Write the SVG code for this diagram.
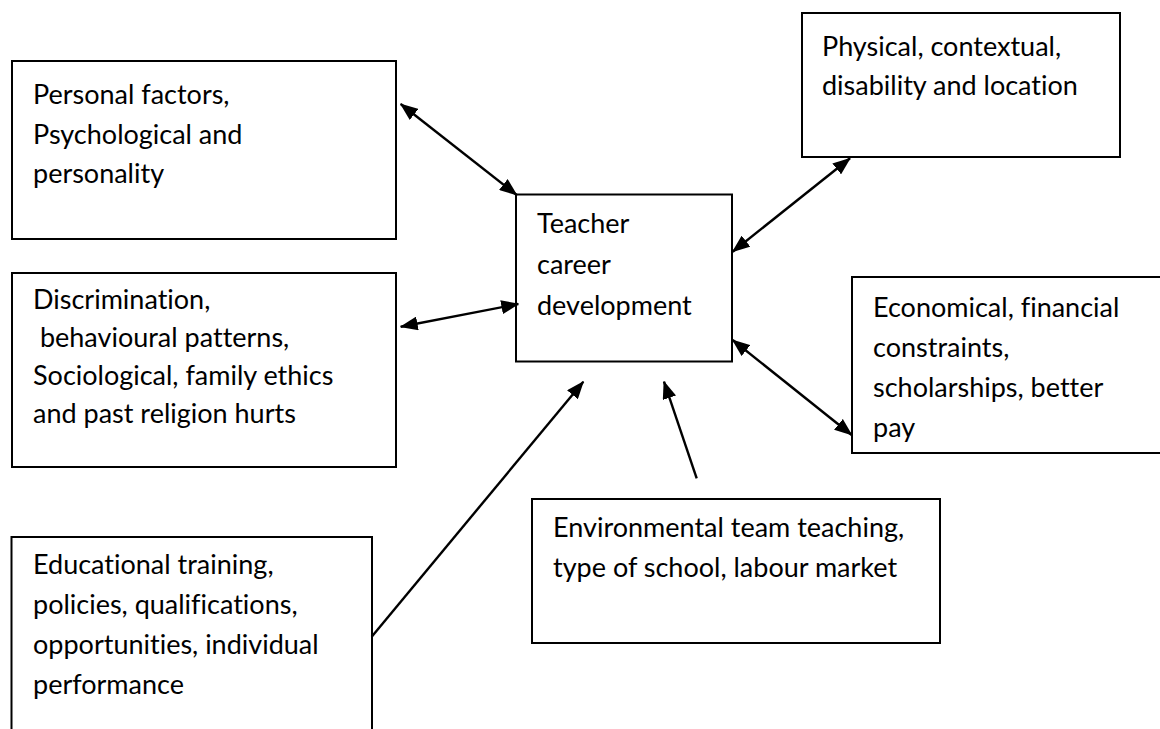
<svg xmlns="http://www.w3.org/2000/svg" width="1160" height="729" viewBox="0 0 1160 729">
<style>
.box{fill:#fff;stroke:#000;stroke-width:2}
.t{font-family:Lato,"Liberation Sans",sans-serif;font-size:27px;fill:#000;font-variant-ligatures:none}
.c{stroke:#000;stroke-width:2.4;fill:none}
</style>
<defs>
<marker id="ah" viewBox="0 0 18 14" refX="17" refY="7" markerUnits="userSpaceOnUse" markerWidth="18" markerHeight="14" orient="auto-start-reverse">
<path d="M0,0 L18,7 L0,14 z" fill="#000"/>
</marker>
</defs>
<rect width="1160" height="729" fill="#fff"/>
<g id="personal">
<rect class="box" x="12" y="61" width="384" height="178"/>
<text class="t" x="33" y="104">Personal factors,</text>
<text class="t" x="33" y="144">Psychological and</text>
<text class="t" x="33" y="183">personality</text>
</g>
<g id="discrimination">
<rect class="box" x="12" y="273" width="384" height="194"/>
<text class="t" x="33" y="309">Discrimination,</text>
<text class="t" x="33" y="347" xml:space="preserve"> behavioural patterns,</text>
<text class="t" x="33" y="385">Sociological, family ethics</text>
<text class="t" x="33" y="423">and past religion hurts</text>
</g>
<g id="educational">
<rect class="box" x="11.5" y="537" width="360.5" height="210"/>
<text class="t" x="33" y="574">Educational training,</text>
<text class="t" x="33" y="614">policies, qualifications,</text>
<text class="t" x="33" y="654">opportunities, individual</text>
<text class="t" x="33" y="694">performance</text>
</g>
<g id="teacher">
<rect class="box" x="516" y="194.5" width="216" height="167"/>
<text class="t" x="537" y="233">Teacher</text>
<text class="t" x="537" y="274">career</text>
<text class="t" x="537" y="315">development</text>
</g>
<g id="physical">
<rect class="box" x="802" y="13" width="318" height="144"/>
<text class="t" x="822" y="56">Physical, contextual,</text>
<text class="t" x="822" y="95">disability and location</text>
</g>
<g id="economical">
<rect class="box" x="852" y="277" width="330" height="176"/>
<text class="t" x="873" y="317">Economical, financial</text>
<text class="t" x="873" y="357">constraints,</text>
<text class="t" x="873" y="397">scholarships, better</text>
<text class="t" x="873" y="437">pay</text>
</g>
<g id="environmental">
<rect class="box" x="532" y="499" width="408" height="144"/>
<text class="t" x="553" y="537">Environmental team teaching,</text>
<text class="t" x="553" y="577">type of school, labour market</text>
</g>
<g id="connectors">
<line class="c" x1="400.7" y1="104" x2="516.7" y2="195" marker-start="url(#ah)" marker-end="url(#ah)"/>
<line class="c" x1="400.7" y1="326.7" x2="518.3" y2="304" marker-start="url(#ah)" marker-end="url(#ah)"/>
<line class="c" x1="371.7" y1="636.7" x2="583.3" y2="381.7" marker-end="url(#ah)"/>
<line class="c" x1="696.7" y1="478.3" x2="664" y2="381.7" marker-end="url(#ah)"/>
<line class="c" x1="732.7" y1="251.7" x2="850" y2="158.3" marker-start="url(#ah)" marker-end="url(#ah)"/>
<line class="c" x1="732.7" y1="340" x2="851.7" y2="435" marker-start="url(#ah)" marker-end="url(#ah)"/>
</g>
</svg>
